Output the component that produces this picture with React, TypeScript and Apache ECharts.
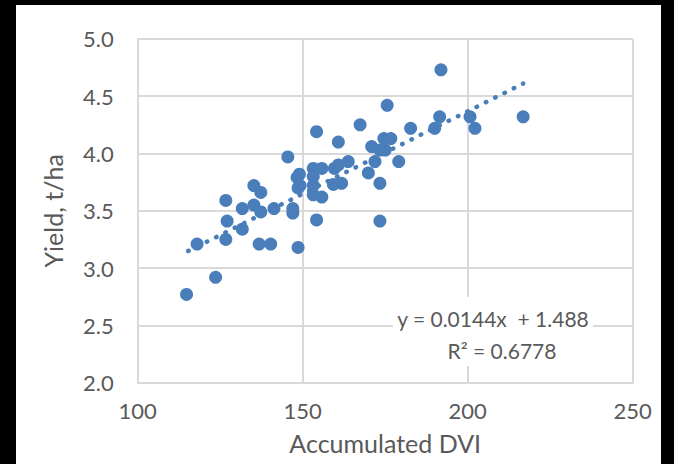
import React, { useEffect, useRef } from "react";
import * as echarts from "echarts";

const dviValues = [
  114.8, 123.6, 118.0, 126.7, 127.1, 131.7, 136.8, 140.3, 148.6, 126.7,
  131.7, 135.2, 137.3, 141.3, 147.0, 147.0, 135.2, 137.3, 145.5, 149.0,
  148.3, 149.2, 148.6, 153.2, 155.8, 153.2, 153.2, 153.2, 155.8, 154.2,
  154.2, 159.3, 161.8, 159.6, 160.8, 163.8, 160.8, 167.4, 169.9, 171.9,
  170.9, 173.4, 175.0, 174.6, 176.7, 179.1, 173.4, 173.4, 175.6, 182.7,
  190.0, 191.5, 191.9, 200.7, 202.2, 216.8,
];
const yieldValues = [
  2.77, 2.92, 3.21, 3.25, 3.41, 3.34, 3.21, 3.21, 3.18, 3.59,
  3.52, 3.55, 3.49, 3.52, 3.52, 3.48, 3.72, 3.66, 3.97, 3.82,
  3.79, 3.72, 3.70, 3.87, 3.87, 3.80, 3.72, 3.64, 3.62, 3.42,
  4.19, 3.73, 3.74, 3.87, 3.90, 3.93, 4.10, 4.25, 3.83, 3.93,
  4.06, 4.03, 4.03, 4.13, 4.13, 3.93, 3.74, 3.41, 4.42, 4.22,
  4.22, 4.32, 4.73, 4.32, 4.22, 4.32,
];
const trendSlope = 0.0144;
const trendIntercept = 1.488;
const trendRange = [115.3, 216.8];
const equationText = "y = 0.0144x  + 1.488";
const r2Text = "R² = 0.6778";
const xTitle = "Accumulated DVI";
const yTitle = "Yield, t/ha";

const FONT = "Lato, 'Open Sans', sans-serif";
const TXT = "#595959";
const GRID = "#d9d9d9";
const BLUE = "#4a7ebb";

export default function App() {
  const ref = useRef<HTMLDivElement>(null);
  useEffect(() => {
    if (!ref.current) return;
    const chart = echarts.init(ref.current, undefined, { renderer: "svg" });
    const points = dviValues.map((x, i) => [x, yieldValues[i]]);
    const trend = trendRange.map((x) => [x, trendSlope * x + trendIntercept]);
    chart.setOption({
      animation: false,
      backgroundColor: "#ffffff",
      textStyle: { fontFamily: FONT },
      grid: { left: 121.7, right: 28.3, top: 33.9, bottom: 81.3, show: false },
      xAxis: {
        type: "value",
        min: 100,
        max: 250,
        interval: 50,
        name: xTitle,
        nameLocation: "middle",
        nameGap: 48,
        nameTextStyle: { fontFamily: FONT, fontSize: 25, color: TXT },
        axisLine: { show: true, lineStyle: { color: GRID, width: 2 } },
        axisTick: { show: false },
        axisLabel: { margin: 17, fontFamily: FONT, fontSize: 22, color: TXT },
        splitLine: { show: true, lineStyle: { color: GRID, width: 2 } },
      },
      yAxis: {
        type: "value",
        min: 2,
        max: 5,
        interval: 0.5,
        name: yTitle,
        nameLocation: "middle",
        nameGap: 72,
        nameRotate: 90,
        nameTextStyle: { fontFamily: FONT, fontSize: 25, color: TXT },
        axisLine: { show: true, lineStyle: { color: GRID, width: 2 } },
        axisTick: { show: false },
        axisLabel: {
          margin: 24,
          fontFamily: FONT,
          fontSize: 22,
          color: TXT,
          formatter: (v: number) => v.toFixed(1),
        },
        splitLine: { show: true, lineStyle: { color: GRID, width: 2 } },
      },
      graphic: [
        {
          type: "rect",
          z: 1,
          shape: { x: 377, y: 292, width: 200, height: 69 },
          style: { fill: "#ffffff" },
        },
        {
          type: "text",
          z: 2,
          x: 477,
          y: 313,
          style: {
            text: equationText,
            fill: TXT,
            font: `21px ${FONT}`,
            align: "center",
            verticalAlign: "middle",
          },
        },
        {
          type: "text",
          z: 2,
          x: 486,
          y: 345,
          style: {
            text: r2Text,
            fill: TXT,
            font: `21px ${FONT}`,
            align: "center",
            verticalAlign: "middle",
          },
        },
      ],
      series: [
        {
          type: "line",
          data: trend,
          showSymbol: false,
          symbol: "none",
          z: 3,
          lineStyle: { color: BLUE, width: 4.5, type: [0.5, 9.9], cap: "round" },
        },
        {
          type: "scatter",
          data: points,
          symbolSize: 13,
          z: 4,
          itemStyle: { color: BLUE, opacity: 1 },
        },
      ],
    });
    return () => chart.dispose();
  }, []);
  return (
    <div style={{ position: "fixed", left: 0, top: 0, width: 674, height: 464, background: "#000" }}>
      <div ref={ref} style={{ position: "absolute", left: 16, top: 5, width: 645, height: 459 }} />
    </div>
  );
}
